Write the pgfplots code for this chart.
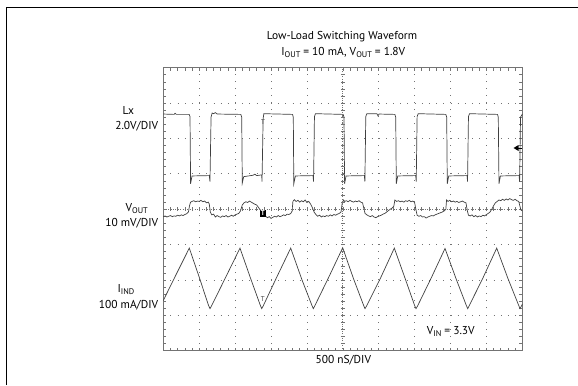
\documentclass[border=0pt]{standalone}
\usepackage{fontspec}
\setmainfont{PT Sans}
\usepackage{pgfplots}
\pgfplotsset{compat=1.18}
\definecolor{wave}{gray}{0.25}
\definecolor{framec}{gray}{0.45}
\definecolor{gridc}{gray}{0.45}
\newcommand{\sub}[1]{\raisebox{-0.35ex}{\fontsize{8.3}{9}\selectfont #1}}
\newcommand{\lab}{\fontsize{11.5}{13}\selectfont}
\begin{document}
\begin{tikzpicture}[x=1bp,y=1bp]
\path[use as bounding box] (0,0) rectangle (578,385);
\draw[line width=1.3bp] (6.5,0) -- (6.5,377.7) -- (578,377.7);
\begin{axis}[at={(163.3bp,34.3bp)}, anchor=south west, scale only axis,
  width=359bp, height=283bp, xmin=0, xmax=10, ymin=0, ymax=8,
  xtick={0,...,10}, ytick={0,...,8}, xticklabels={,,}, yticklabels={,,},
  minor x tick num=4, minor y tick num=4, tick align=inside,
  major tick length=3bp, minor tick length=3bp,
  every tick/.style={framec, line width=0.6bp},
  axis line style={framec, line width=1.3bp},
  grid=major,
  major x grid style={gridc, line width=0.8bp, dash pattern=on 0.8bp off 6.275bp},
  major y grid style={gridc, line width=0.8bp, dash pattern=on 0.8bp off 6.38bp},
  clip=false]
% Lx
\addplot[wave, line width=0.7bp] coordinates {
(0,6.69) (0.30,6.68) (0.33,6.71) (0.36,6.68) (0.72,6.68) (0.744,6.62) (0.76,4.72) (0.80,4.94) (1.28,4.95) (1.30,4.78) (1.33,6.60) (1.36,6.72) (1.40,6.70) (1.45,6.73) (1.50,6.69) (2.16,6.68) (2.184,6.6) (2.20,4.74) (2.24,4.92) (2.5,4.96) (2.55,4.99) (2.6,4.95) (2.74,4.97) (2.75,4.78) (2.78,6.55) (2.80,6.70) (3.60,6.68) (3.621,6.6) (3.635,4.72) (3.68,4.94) (4.17,4.95) (4.185,4.78) (4.21,6.62) (4.24,6.70) (5.01,6.68) (5.033,6.6) (5.05,4.72) (5.09,4.94) (5.60,4.95) (5.615,4.78) (5.64,6.62) (5.67,6.70) (5.95,6.70) (5.98,6.64) (6.01,6.69) (6.45,6.68) (6.474,6.6) (6.49,4.72) (6.53,4.94) (7.03,4.95) (7.045,4.78) (7.07,6.62) (7.10,6.70) (7.87,6.68) (7.894,6.6) (7.91,4.72) (7.95,4.94) (8.46,4.95) (8.475,4.78) (8.50,6.62) (8.53,6.70) (9.31,6.68) (9.331,6.6) (9.35,4.72) (9.39,4.94) (9.91,4.95) (9.925,4.78) (9.95,6.6) (10,6.69)
};
% VOUT
\addplot[wave, line width=0.7bp] coordinates {
(0.00,3.79) (0.05,3.81) (0.10,3.78) (0.15,3.80) (0.20,3.82) (0.25,3.79) (0.30,3.81) (0.35,3.80) (0.40,3.83) (0.45,3.81) (0.50,3.84) (0.55,3.82) (0.60,3.85) (0.65,3.87) (0.70,3.92) (0.73,4.10) (0.76,4.20) (0.80,4.22) (0.85,4.24) (0.90,4.21) (0.95,4.23) (1.00,4.22) (1.05,4.25) (1.10,4.21) (1.15,4.23) (1.20,4.18) (1.25,4.20) (1.28,4.15) (1.31,3.92) (1.35,3.84) (1.40,3.86) (1.45,3.78) (1.50,3.82) (1.55,3.79) (1.60,3.77) (1.65,3.81) (1.70,3.79) (1.75,3.82) (1.80,3.78) (1.85,3.80) (1.90,3.83) (1.95,3.80) (2.00,3.84) (2.05,3.86) (2.10,3.88) (2.15,3.95) (2.20,4.12) (2.25,4.18) (2.30,4.21) (2.35,4.19) (2.40,4.23) (2.45,4.20) (2.50,4.17) (2.55,4.14) (2.60,4.12) (2.65,4.05) (2.70,3.98) (2.75,3.92) (2.80,3.85) (2.85,3.80) (2.90,3.76) (2.95,3.79) (3.00,3.74) (3.05,3.77) (3.10,3.80) (3.15,3.78) (3.20,3.82) (3.25,3.79) (3.30,3.81) (3.35,3.84) (3.40,3.82) (3.45,3.86) (3.50,3.85) (3.55,3.88) (3.59,3.95) (3.61,4.22) (3.65,4.27) (3.70,4.22) (3.75,4.25) (3.80,4.20) (3.85,4.24) (3.90,4.21) (3.95,4.26) (4.00,4.19) (4.05,4.22) (4.10,4.15) (4.15,4.05) (4.20,3.92) (4.25,3.85) (4.30,3.80) (4.35,3.83) (4.40,3.78) (4.45,3.81) (4.50,3.79) (4.55,3.82) (4.60,3.80) (4.65,3.84) (4.70,3.81) (4.75,3.85) (4.80,3.83) (4.85,3.86) (4.90,3.88) (4.95,3.92) (4.98,4.15) (5.02,4.26) (5.05,4.22) (5.10,4.24) (5.15,4.21) (5.20,4.25) (5.25,4.22) (5.30,4.20) (5.35,4.23) (5.40,4.21) (5.45,4.24) (5.50,4.20) (5.55,4.18) (5.58,4.05) (5.62,3.88) (5.67,3.84) (5.72,3.81) (5.77,3.79) (5.82,3.82) (5.87,3.78) (5.92,3.76) (5.97,3.79) (6.02,3.81) (6.07,3.83) (6.12,3.86) (6.17,3.88) (6.22,3.92) (6.27,3.96) (6.32,4.00) (6.37,4.03) (6.42,4.08) (6.45,4.26) (6.50,4.22) (6.55,4.24) (6.60,4.21) (6.65,4.23) (6.70,4.20) (6.75,4.24) (6.80,4.22) (6.85,4.25) (6.90,4.21) (6.95,4.23) (7.00,4.19) (7.03,4.02) (7.07,3.83) (7.12,3.80) (7.17,3.82) (7.22,3.78) (7.27,3.79) (7.32,3.75) (7.37,3.78) (7.42,3.80) (7.47,3.82) (7.52,3.81) (7.57,3.84) (7.62,3.86) (7.67,3.88) (7.72,3.90) (7.77,3.92) (7.82,3.95) (7.87,4.00) (7.89,4.26) (7.93,4.22) (7.98,4.25) (8.03,4.21) (8.08,4.23) (8.13,4.20) (8.18,4.22) (8.23,4.19) (8.28,4.21) (8.33,4.23) (8.38,4.20) (8.43,4.18) (8.47,3.95) (8.50,3.83) (8.55,3.81) (8.60,3.84) (8.65,3.79) (8.70,3.82) (8.75,3.78) (8.80,3.81) (8.85,3.79) (8.90,3.83) (8.95,3.81) (9.00,3.85) (9.05,3.88) (9.10,3.92) (9.15,4.00) (9.20,4.10) (9.25,4.18) (9.30,4.22) (9.35,4.26) (9.40,4.24) (9.45,4.28) (9.50,4.25) (9.55,4.29) (9.60,4.26) (9.65,4.30) (9.70,4.27) (9.75,4.25) (9.80,4.28) (9.85,4.24) (9.90,4.22) (9.93,4.10) (9.96,3.98) (10.00,3.95)
};
% IIND
\addplot[wave, line width=0.7bp] coordinates {
(0,1.42) (0.36,2.16) (0.724,2.90) (1.0,2.08) (1.26,1.28) (1.301,1.19) (1.34,1.26) (1.72,2.04) (2.136,2.90) (2.44,2.02) (2.70,1.29) (2.741,1.19) (2.78,1.26) (3.16,2.08) (3.549,2.90) (3.86,2.01) (4.14,1.28) (4.178,1.19) (4.22,1.27) (4.6,2.06) (4.997,2.91) (5.3,2.03) (5.58,1.28) (5.618,1.19) (5.66,1.26) (6.04,2.03) (6.435,2.90) (6.74,2.03) (7.0,1.28) (7.039,1.19) (7.08,1.26) (7.46,2.05) (7.847,2.89) (8.16,2.02) (8.44,1.28) (8.479,1.19) (8.52,1.27) (8.9,2.05) (9.287,2.90) (9.6,2.04) (9.9,1.28) (9.935,1.19) (9.97,1.25) (10,1.31)
};
\node[font=\fontsize{7}{7}\selectfont, text=wave, inner sep=0pt] at (axis cs:2.78,6.45) {T};
\node[font=\fontsize{7}{7}\selectfont, text=wave, inner sep=0pt] at (axis cs:2.77,1.45) {T};
\node[fill=black, text=white, font=\fontsize{7}{7}\selectfont\bfseries, inner sep=1.2pt] at (axis cs:2.77,3.88) {T};
\end{axis}
% centre graticule lines with ticks
\draw[gridc, line width=0.8bp, dash pattern=on 0.8bp off 1.6bp] (342.8,34.3) -- (342.8,317.3);
\draw[gridc, line width=0.8bp, dash pattern=on 0.8bp off 1.6bp] (163.3,175.8) -- (522.3,175.8);
\foreach \i in {1,...,49} \draw[framec, line width=0.6bp] ({163.3+7.18*\i},173.8) -- ++(0,4);
\foreach \i in {1,...,39} \draw[framec, line width=0.6bp] (340.8,{34.3+7.075*\i}) -- ++(4,0);
% trigger level arrow
\fill[black] (513.5,237) -- (518.5,234) -- (518.5,240) -- cycle;
\draw[black, line width=0.8bp] (518,237) -- (521.5,237);
% texts
\node[font=\lab] at (342,348) {Low-Load Switching Waveform};
\node[font=\lab] at (343.3,333) {I\sub{OUT} = 10 mA, V\sub{OUT} = 1.8V};
\node[font=\lab] at (128.3,274.3) {Lx};
\node[font=\lab, anchor=east, inner sep=0pt] at (158.3,259) {2.0V/DIV};
\node[font=\lab] at (136.7,176.7) {V\sub{OUT}};
\node[font=\lab, anchor=east, inner sep=0pt] at (158.3,161.7) {10 mV/DIV};
\node[font=\lab] at (126,95) {I\sub{IND}};
\node[font=\lab, anchor=east, inner sep=0pt] at (158.3,80) {100 mA/DIV};
\node[font=\lab] at (450.8,53) {V\sub{IN} = 3.3V};
\node[font=\lab] at (343.3,24.3) {500 nS/DIV};
\end{tikzpicture}
\end{document}
